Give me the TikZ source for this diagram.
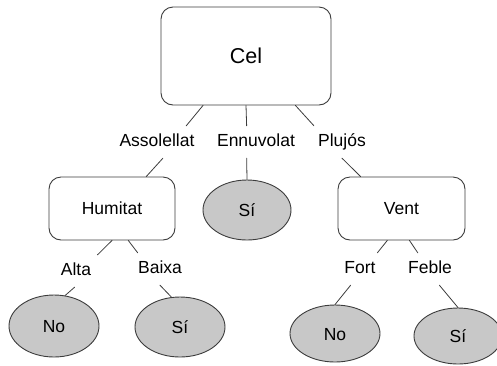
\documentclass[tikz,border=0pt]{standalone}
\usepackage{fontspec}
\setmainfont{Liberation Sans}
\usepackage{tikz}
\usetikzlibrary{shapes.geometric}
\definecolor{leafgray}{RGB}{200,200,200}
\definecolor{linegray}{RGB}{60,60,60}

\begin{document}
\begin{tikzpicture}[line cap=round,line join=round,x=1pt,y=-1pt,
  box/.style={draw=linegray,line width=0.9pt,rounded corners=12pt,fill=white,inner sep=0pt,font=\fontsize{17.5}{20}\selectfont},
  leaf/.style={ellipse,draw=linegray,line width=0.9pt,fill=leafgray,inner sep=0pt,minimum width=90pt,minimum height=60pt,text height=13pt,text depth=0pt,font=\fontsize{17.5}{20}\selectfont},
  lbl/.style={inner xsep=7.5pt,inner ysep=7.5pt,text height=13pt,text depth=4pt,font=\fontsize{17.5}{20}\selectfont},
  conn/.style={draw=linegray,line width=0.8pt}]
\useasboundingbox (0,0) rectangle (497,365);
% decision nodes
\node[box,minimum width=170pt,minimum height=98pt,font=\fontsize{21.5}{24}\selectfont] (cel) at (246,56) {Cel};
\node[box,minimum width=126pt,minimum height=63pt] (hum) at (112,208.5) {Humitat};
\node[box,minimum width=127pt,minimum height=63pt] (vent) at (401.5,208.5) {Vent};
% leaves
\node[leaf,minimum width=88pt] (si1) at (247,210) {Sí};
\node[leaf,minimum height=62pt] (no1) at (54,326) {No};
\node[leaf] (si2) at (180,327) {Sí};
\node[leaf,minimum height=57pt] (no2) at (335,333.5) {No};
\node[leaf,minimum width=88pt,minimum height=56pt] (si3) at (458,336) {Sí};
% branch labels
\node[lbl] (assol) at (157,142) {Assolellat};
\node[lbl] (ennuv) at (256,142) {Ennuvolat};
\node[lbl] (pluj) at (342,142) {Plujós};
\node[lbl] (alta) at (76,271) {Alta};
\node[lbl] (baixa) at (160,269) {Baixa};
\node[lbl] (fort) at (360,269) {Fort};
\node[lbl] (feble) at (430,269) {Feble};
% branches
\draw[conn] (cel.229) -- (assol.29);
\draw[conn] (assol.290) -- (hum.43);
\draw[conn] (cel.south) -- (ennuv.120);
\draw[conn] (ennuv.240) -- (si1.north);
\draw[conn] (cel.315) -- (pluj.150);
\draw[conn] (pluj.south) -- (vent.142);
\draw[conn] (hum.south) -- (alta.37);
\draw[conn] (alta.265) -- (no1.70);
\draw[conn] (hum.297) -- (baixa.144);
\draw[conn] (baixa.south) -- (si2.106);
\draw[conn] (vent.246) -- (fort.43);
\draw[conn] (fort.240) -- (no2.north);
\draw[conn] (vent.284) -- (feble.127);
\draw[conn] (feble.300) -- (si3.north);
\end{tikzpicture}
\end{document}
